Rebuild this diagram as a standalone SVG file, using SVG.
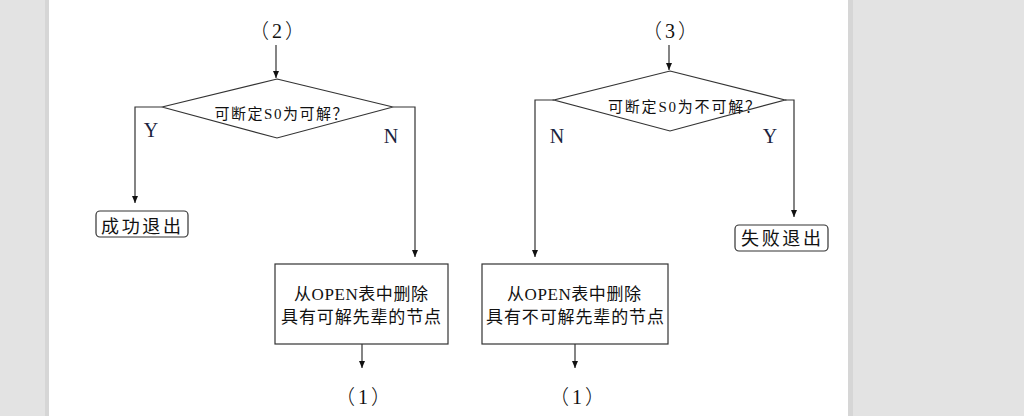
<svg xmlns="http://www.w3.org/2000/svg" width="1024" height="416" viewBox="0 0 1024 416">
<defs>
<marker id="arr" markerWidth="8" markerHeight="8" refX="7" refY="4" orient="auto" markerUnits="userSpaceOnUse">
<path d="M0,1 L7,4 L0,7 Z" fill="#111"/>
</marker>
<style>
.ln{fill:none;stroke:#333;stroke-width:1.2}
.shape{fill:#fff;stroke:#333;stroke-width:1.2}
.t{font-family:"Liberation Serif","Noto Sans CJK SC",serif;fill:#111;text-anchor:middle}
.cjk{font-family:"Noto Sans CJK SC",sans-serif;font-weight:300}
.d{font-size:15px}
.b{font-size:17px}
.e{font-size:18px}
.yn{font-size:20px;fill:#1c2440}
.num{font-size:20px}
</style>
</defs>
<rect x="0" y="0" width="1024" height="416" fill="#e3e3e3"/>
<rect x="45" y="0" width="808" height="416" fill="#d6d6d6"/>
<rect x="49" y="0" width="799" height="416" fill="#ffffff"/>

<g id="connectors">
<path class="ln" d="M276,45 V78" marker-end="url(#arr)"/>
<path class="ln" d="M162,107 H135 V203" marker-end="url(#arr)"/>
<path class="ln" d="M393,107 H415 V257" marker-end="url(#arr)"/>
<path class="ln" d="M362,344 V368" marker-end="url(#arr)"/>
<path class="ln" d="M669,45 V70" marker-end="url(#arr)"/>
<path class="ln" d="M554,100 H535 V257" marker-end="url(#arr)"/>
<path class="ln" d="M785,100 H794 V217" marker-end="url(#arr)"/>
<path class="ln" d="M575,344 V368" marker-end="url(#arr)"/>
<text class="t yn" x="151" y="137">Y</text>
<text class="t yn" x="391" y="143">N</text>
<text class="t yn" x="557" y="143">N</text>
<text class="t yn" x="770" y="143">Y</text>
</g>

<g id="start2"><text class="t num" y="38"><tspan class="cjk" x="259">（</tspan><tspan x="277">2</tspan><tspan class="cjk" x="295">）</tspan></text></g>
<g id="decision1">
<polygon class="shape" points="277,79 393,107 277,138 162,107"/>
<text class="t d" x="281" y="119" textLength="133" lengthAdjust="spacing">可断定S0为可解？</text>
</g>
<g id="success">
<rect class="shape" x="96" y="211" width="92" height="26" rx="4"/>
<text class="t e" x="141" y="233" textLength="80" lengthAdjust="spacing">成功退出</text>
</g>
<g id="remove1">
<rect class="shape" x="275" y="264" width="173" height="80"/>
<text class="t b" x="361" y="300" textLength="134" lengthAdjust="spacing">从OPEN表中删除</text>
<text class="t b" x="361" y="323" textLength="160" lengthAdjust="spacing">具有可解先辈的节点</text>
</g>
<g id="end1a"><text class="t num" y="404"><tspan class="cjk" x="345">（</tspan><tspan x="363">1</tspan><tspan class="cjk" x="381">）</tspan></text></g>

<g id="start3"><text class="t num" y="38"><tspan class="cjk" x="652">（</tspan><tspan x="670">3</tspan><tspan class="cjk" x="688">）</tspan></text></g>
<g id="decision2">
<polygon class="shape" points="670,71 785,100 670,131 554,100"/>
<text class="t d" x="684" y="112" textLength="152" lengthAdjust="spacing">可断定S0为不可解？</text>
</g>
<g id="fail">
<rect class="shape" x="735" y="225" width="93" height="26" rx="4"/>
<text class="t e" x="781" y="245" textLength="80" lengthAdjust="spacing">失败退出</text>
</g>
<g id="remove2">
<rect class="shape" x="482" y="264" width="186" height="80"/>
<text class="t b" x="574" y="300" textLength="134" lengthAdjust="spacing">从OPEN表中删除</text>
<text class="t b" x="575" y="323" textLength="178" lengthAdjust="spacing">具有不可解先辈的节点</text>
</g>
<g id="end1b"><text class="t num" y="404"><tspan class="cjk" x="559">（</tspan><tspan x="577">1</tspan><tspan class="cjk" x="595">）</tspan></text></g>
</svg>
